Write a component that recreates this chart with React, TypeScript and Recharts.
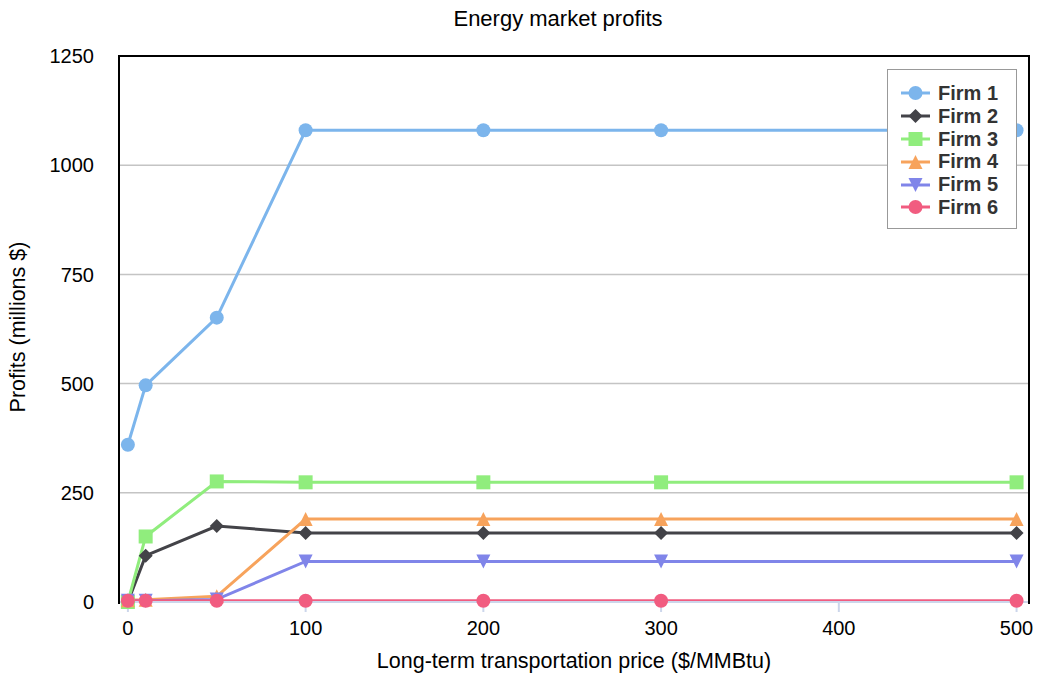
import React from 'react';
import { LineChart, Line, XAxis, YAxis, CartesianGrid } from 'recharts';

const prices = [0, 10, 50, 100, 200, 300, 500];
const firm1 = [360, 496, 651, 1080, 1080, 1080, 1080];
const firm2 = [0, 106, 174, 158, 158, 158, 158];
const firm3 = [0, 150, 276, 274, 274, 274, 274];
const firm4 = [4, 5, 13, 190, 190, 190, 190];
const firm5 = [3, 3, 6, 93, 93, 93, 93];
const firm6 = [3, 3, 3, 3, 3, 3, 3];
const xTicks = [0, 100, 200, 300, 400, 500];
const yTicks = [0, 250, 500, 750, 1000, 1250];

const series = [
  { key: 'firm1', name: 'Firm 1', color: '#7cb5ec', shape: 'circle', values: firm1 },
  { key: 'firm2', name: 'Firm 2', color: '#434348', shape: 'diamond', values: firm2 },
  { key: 'firm3', name: 'Firm 3', color: '#90ed7d', shape: 'square', values: firm3 },
  { key: 'firm4', name: 'Firm 4', color: '#f7a35c', shape: 'triangle', values: firm4 },
  { key: 'firm5', name: 'Firm 5', color: '#8085e9', shape: 'triangle-down', values: firm5 },
  { key: 'firm6', name: 'Firm 6', color: '#f15c80', shape: 'circle', values: firm6 },
];

const data = prices.map((p, i) => {
  const row: any = { price: p };
  series.forEach((s) => { row[s.key] = s.values[i]; });
  return row;
});

const FONT = '"Liberation Sans", Arial, Helvetica, sans-serif';

const marker = (shape: string, cx: number, cy: number, color: string, key?: any) => {
  const r = 7;
  switch (shape) {
    case 'square':
      return <rect key={key} x={cx - r} y={cy - r} width={2 * r} height={2 * r} fill={color} />;
    case 'diamond':
      return <path key={key} d={`M${cx},${cy - r}L${cx + r},${cy}L${cx},${cy + r}L${cx - r},${cy}Z`} fill={color} />;
    case 'triangle':
      return <path key={key} d={`M${cx},${cy - r}L${cx + r},${cy + r}L${cx - r},${cy + r}Z`} fill={color} />;
    case 'triangle-down':
      return <path key={key} d={`M${cx - r},${cy - r}L${cx + r},${cy - r}L${cx},${cy + r}Z`} fill={color} />;
    default:
      return <circle key={key} cx={cx} cy={cy} r={r} fill={color} />;
  }
};

// legend drawn outside the chart so it doesn't shrink the plot area
const LegendBox = () => (
  <div
    style={{
      position: 'absolute',
      left: 887,
      top: 69,
      border: '1.5px solid #999',
      background: '#fff',
      padding: '12px 0 9px 13px',
      width: 115,
      fontFamily: FONT,
    }}
  >
    {series.map((s) => (
      <div key={s.key} style={{ display: 'flex', alignItems: 'center', height: 22.8 }}>
        <svg width={30} height={20} style={{ marginRight: 7 }}>
          <line x1={0} y1={10} x2={29} y2={10} stroke={s.color} strokeWidth={3} />
          {marker(s.shape, 14.5, 10, s.color)}
        </svg>
        <span style={{ fontWeight: 'bold', fontSize: 20, color: '#333' }}>{s.name}</span>
      </div>
    ))}
  </div>
);

const App: React.FC = () => {
  return (
    <div style={{ position: 'absolute', left: 0, top: 0, width: 1037, height: 675, fontFamily: FONT, background: '#fff' }}>
      <div style={{ position: 'absolute', left: 0, top: 6, width: 1116, textAlign: 'center', fontSize: 22, lineHeight: '26px', color: '#000' }}>
        Energy market profits
      </div>
      <LineChart width={1037} height={675} data={data} margin={{ top: 56, right: 8, bottom: 0, left: 0 }}>
        <CartesianGrid vertical={false} stroke="#c4c4c4" strokeWidth={1.5} />
        <XAxis
          dataKey="price"
          type="number"
          domain={[-5, 507]}
          ticks={xTicks}
          height={73}
          stroke="#ccd6eb"
          strokeWidth={2}
          tickSize={10}
          tickMargin={9}
          tick={{ fill: '#000', fontSize: 20, fontFamily: FONT }}
          label={{
            content: (props: any) => {
              const vb = props.viewBox;
              return (
                <text x={vb.x + vb.width / 2} y={vb.y + 66} textAnchor="middle" fontSize={21.5} fontFamily={FONT} fill="#000">
                  Long-term transportation price ($/MMBtu)
                </text>
              );
            },
          }}
        />
        <YAxis
          type="number"
          domain={[0, 1250]}
          ticks={yTicks}
          width={119}
          axisLine={false}
          tickLine={false}
          tickSize={6}
          tickMargin={19}
          tick={{ fill: '#000', fontSize: 20, fontFamily: FONT }}
          label={{
            content: (props: any) => {
              const vb = props.viewBox;
              const cx = 25;
              const cy = vb.y + vb.height / 2 - 2;
              return (
                <text x={cx} y={cy} transform={`rotate(-90, ${cx}, ${cy})`} textAnchor="middle" fontSize={21.5} fontFamily={FONT} fill="#000">
                  Profits (millions $)
                </text>
              );
            },
          }}
        />
        {series.map((s) => (
          <Line
            key={s.key}
            type="linear"
            dataKey={s.key}
            name={s.name}
            stroke={s.color}
            strokeWidth={3}
            isAnimationActive={false}
            dot={(p: any) => marker(s.shape, p.cx, p.cy, s.color, `${s.key}-${p.index}`)}
            activeDot={false}
          />
        ))}
      </LineChart>
      <div
        style={{
          position: 'absolute',
          left: 118,
          top: 55,
          width: 908,
          height: 547,
          borderTop: '2px solid #000',
          borderLeft: '2px solid #000',
          borderRight: '2px solid #000',
          pointerEvents: 'none',
        }}
      />
      <LegendBox />
    </div>
  );
};

export default App;
